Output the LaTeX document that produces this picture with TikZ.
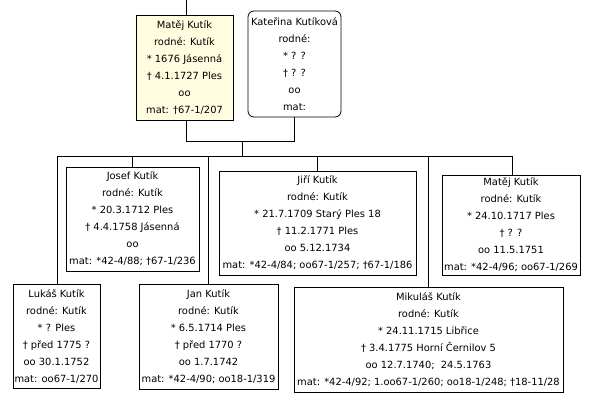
\documentclass[tikz,border=0pt]{standalone}
\usepackage{fontspec}
\setmainfont{DejaVu Sans}
\definecolor{paleyellow}{RGB}{255,252,224}
\begin{document}
\begin{tikzpicture}[x=1pt,y=-1pt,
  person/.style={draw, line width=0.8pt, inner sep=0pt, align=center,
    font=\fontsize{9.9}{17}\selectfont},
  conn/.style={draw, line width=0.8pt}]
\useasboundingbox (0,0) rectangle (591,402);
\fill[white] (0,0) rectangle (591,402);

\node[person, fill=paleyellow, minimum width=97pt, minimum height=105pt] (m1) at (184.5,67.5)
  {Matěj Kutík\\rodné: Kutík\\* 1676 Jásenná\\† 4.1.1727 Ples\\oo\\mat: †67-1/207};
\node[person, rounded corners=6pt, minimum width=93pt, minimum height=106pt] (k) at (294.5,64)
  {Kateřina Kutíková\\rodné:\\* ? ?\\† ? ?\\oo\\mat:};

\node[person, minimum width=133pt, minimum height=104pt] (josef) at (132.5,219)
  {Josef Kutík\\rodné: Kutík\\* 20.3.1712 Ples\\† 4.4.1758 Jásenná\\oo\\mat: *42-4/88; †67-1/236};
\node[person, minimum width=197pt, minimum height=104pt] (jiri) at (317.5,223)
  {Jiří Kutík\\rodné: Kutík\\* 21.7.1709 Starý Ples 18\\† 11.2.1771 Ples\\oo 5.12.1734\\mat: *42-4/84; oo67-1/257; †67-1/186};
\node[person, minimum width=138pt, minimum height=100pt] (m2) at (511,225)
  {Matěj Kutík\\rodné: Kutík\\* 24.10.1717 Ples\\† ? ?\\oo 11.5.1751\\mat: *42-4/96; oo67-1/269};
\node[person, minimum width=87pt, minimum height=104pt] (lukas) at (56.5,336)
  {Lukáš Kutík\\rodné: Kutík\\* ? Ples\\† před 1775 ?\\oo 30.1.1752\\mat: oo67-1/270};
\node[person, minimum width=139pt, minimum height=105pt] (jan) at (208.5,336.5)
  {Jan Kutík\\rodné: Kutík\\* 6.5.1714 Ples\\† před 1770 ?\\oo 1.7.1742\\mat: *42-4/90; oo18-1/319};
\node[person, minimum width=269pt, minimum height=105pt] (mik) at (428.5,339.5)
  {Mikuláš Kutík\\rodné: Kutík\\* 24.11.1715 Libřice\\† 3.4.1775 Horní Černilov 5\\oo 12.7.1740;\ \ 24.5.1763\\mat: *42-4/92; 1.oo67-1/260; oo18-1/248; †18-11/28};

\coordinate (topend) at (186,0);
\coordinate (par) at (0,141);
\coordinate (mid) at (242,141);
\coordinate (bus) at (0,156);
\coordinate (busL) at (57,156);
\coordinate (busR) at (512,156);

\draw[conn] (topend) -- (topend |- m1.north);
\draw[conn] (m1.south -| topend) -- (topend |- par) -- (k.south |- par) -- (k.south);
\draw[conn] (mid) -- (mid |- bus);
\draw[conn] (busL) -- (busR);
\draw[conn] (busL) -- (busL |- lukas.north);
\draw[conn] (josef.north |- bus) -- (josef.north);
\draw[conn] (jan.north |- bus) -- (jan.north);
\draw[conn] (jiri.north |- bus) -- (jiri.north);
\draw[conn] (mik.north |- bus) -- (mik.north);
\draw[conn] (busR) -- (busR |- m2.north);
\end{tikzpicture}
\end{document}
